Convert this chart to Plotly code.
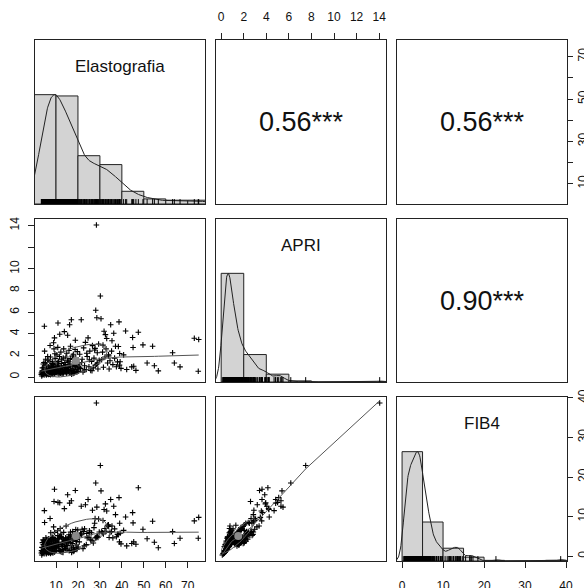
import numpy as np
import plotly.graph_objects as go

# ---------------------------------------------------------------------------
# Observations (one entry per patient): liver stiffness, APRI and FIB-4
# ---------------------------------------------------------------------------
elastografia = [
    # 3 - 10 kPa
    3.3, 3.4, 3.5, 3.6, 3.7, 3.8, 3.9,
    4.0, 4.1, 4.2, 4.3, 4.4, 4.5, 4.6, 4.7, 4.8, 4.9, 4.5, 4.2,
    5.0, 5.1, 5.2, 5.3, 5.4, 5.5, 5.6, 5.7, 5.8, 5.9, 5.3, 5.6, 5.8,
    6.0, 6.1, 6.2, 6.3, 6.4, 6.5, 6.6, 6.7, 6.8, 6.9, 6.2, 6.5, 6.8,
    7.0, 7.1, 7.2, 7.3, 7.4, 7.5, 7.6, 7.7, 7.8, 7.9, 7.2, 7.5, 7.8,
    8.0, 8.1, 8.2, 8.3, 8.4, 8.5, 8.6, 8.7, 8.8, 8.9, 8.3, 8.6, 8.8, 8.1,
    9.0, 9.1, 9.2, 9.3, 9.4, 9.5, 9.6, 9.7, 9.8, 9.9, 9.2, 9.5, 9.7, 9.4,
    # 10 - 20 kPa
    10.1, 10.2, 10.4, 10.5, 10.6, 10.8, 10.9, 10.3, 10.7,
    11.0, 11.1, 11.3, 11.4, 11.6, 11.7, 11.9, 11.5, 11.2,
    12.0, 12.2, 12.3, 12.5, 12.6, 12.8, 12.9, 12.4, 12.7,
    13.0, 13.1, 13.3, 13.4, 13.6, 13.8, 13.9, 13.5, 13.2,
    14.0, 14.2, 14.3, 14.5, 14.6, 14.8, 14.9, 14.4, 14.1,
    15.0, 15.2, 15.3, 15.5, 15.7, 15.8, 15.4, 15.9,
    16.0, 16.2, 16.4, 16.5, 16.7, 16.9, 16.6, 16.3,
    17.0, 17.2, 17.4, 17.6, 17.8, 17.5, 17.1, 17.9,
    18.0, 18.3, 18.5, 18.7, 18.9, 18.2, 18.6, 18.8,
    19.1, 19.3, 19.5, 19.7, 19.9, 19.4, 19.6, 19.0,
    # 20 - 30 kPa
    20.1, 20.4, 20.8, 21.2, 21.5, 21.9, 22.3, 22.6, 23.0, 23.4,
    23.8, 24.2, 24.6, 25.0, 25.4, 25.8, 26.2, 26.6, 27.0, 27.3,
    27.6, 27.9, 28.1, 28.4, 28.6, 28.5, 28.8, 29.1, 29.4, 29.7,
    20.6, 21.7, 22.9, 24.0, 25.2, 26.4, 27.8, 29.0,
    # 30 - 40 kPa
    30.2, 30.5, 30.8, 31.2, 31.6, 31.9, 32.3, 32.5, 32.8, 33.1,
    33.5, 33.9, 34.2, 34.6, 34.9, 35.3, 35.5, 35.9, 36.3, 36.7,
    37.1, 37.5, 38.0, 38.4, 38.7, 38.9, 39.0, 39.2, 39.6, 31.4,
    34.0,
    # above 40 kPa
    41.7, 47.5, 44.9, 45.1, 49.6, 45.4, 46.4, 42.2, 44.5, 40.8,
    54.0, 56.6, 54.8, 51.5, 63.1, 63.9, 66.5, 73.0, 75.0, 74.8,
]

apri = [
    0.25, 0.40, 0.10, 0.55, 0.30, 0.85, 0.22,
    0.35, 0.60, 1.20, 0.28, 0.45, 0.90, 0.20, 4.69, 2.40, 0.70, 1.35, 0.50,
    0.38, 1.30, 0.52, 0.33, 0.70, 0.26, 0.48, 1.10, 0.31, 0.62, 1.65, 0.19, 0.75,
    0.44, 0.58, 0.29, 0.36, 1.55, 0.66, 0.24, 0.95, 0.41, 0.80, 1.90, 0.32, 0.50,
    0.27, 0.63, 0.39, 2.92, 0.46, 1.85, 0.72, 0.34, 1.05, 0.57, 1.45, 0.21, 0.88,
    0.43, 0.68, 0.30, 1.25, 0.37, 1.40, 0.23, 0.61, 0.96, 3.17, 0.49, 1.15, 0.53, 0.28,
    0.77, 2.60, 0.42, 3.62, 0.59, 0.33, 1.70, 0.45, 0.65, 1.02, 0.29, 2.15, 0.51, 0.83,
    0.45, 0.72, 2.05, 0.38, 1.30, 2.74, 5.00, 0.60, 0.95,
    0.52, 1.45, 0.28, 0.85, 1.90, 3.95, 0.74, 0.41, 1.10,
    0.36, 2.30, 0.58, 0.92, 1.60, 0.47, 0.70, 1.25, 0.31,
    0.83, 0.55, 1.75, 0.40, 1.05, 4.20, 0.64, 2.60, 0.29,
    1.35, 0.90, 0.50, 1.85, 0.78, 0.35, 2.20, 1.15, 0.62,
    0.44, 1.50, 3.86, 0.88, 0.57, 1.40, 0.69, 2.45,
    0.39, 4.83, 1.00, 1.70, 0.75, 0.48, 2.85, 1.20,
    5.30, 0.60, 1.95, 0.82, 0.34, 1.62, 0.27, 2.10,
    0.54, 1.08, 0.43, 2.55, 0.98, 0.37, 1.32, 3.40,
    0.71, 1.58, 0.46, 2.35, 0.86, 1.22, 0.52, 1.80,
    0.55, 1.20, 2.10, 0.80, 5.30, 1.65, 0.48, 2.70, 1.05, 3.20,
    0.70, 1.90, 3.62, 0.95, 2.40, 0.62, 1.45, 2.90, 0.85, 1.75,
    2.50, 1.10, 6.17, 14.05, 5.48, 1.18, 2.25, 0.75, 3.05, 1.55,
    0.90, 1.35, 0.65, 2.20, 1.60, 0.58, 2.65, 1.30,
    7.49, 5.39, 1.60, 2.30, 0.90, 4.23, 1.85, 3.92, 2.60, 3.56,
    1.30, 2.05, 0.75, 1.50, 4.83, 2.40, 3.36, 1.15, 4.05, 1.75,
    2.85, 0.95, 1.40, 2.82, 5.10, 1.10, 2.18, 1.42, 0.80, 2.95,
    1.95,
    4.26, 4.14, 3.65, 2.73, 2.97, 1.00, 0.62, 0.70, 0.94, 2.05,
    2.85, 0.57, 1.05, 1.30, 2.24, 1.30, 0.94, 3.59, 3.47, 0.54,
]

fib4 = [
    0.8, 1.4, 0.3, 2.2, 1.0, 3.4, 0.7,
    1.2, 4.1, 2.9, 0.9, 1.9, 3.8, 0.6, 11.5, 8.5, 2.4, 4.0, 1.8,
    1.5, 3.2, 2.0, 1.2, 4.6, 0.8, 1.7, 4.2, 1.1, 3.9, 3.6, 0.6, 3.3,
    1.6, 2.5, 0.9, 1.4, 2.8, 4.4, 0.8, 3.9, 2.7, 3.2, 3.9, 1.1, 2.0,
    0.9, 2.7, 2.9, 9.5, 1.8, 4.2, 5.9, 1.1, 4.5, 2.3, 3.0, 0.7, 3.6,
    3.3, 3.0, 1.0, 4.6, 1.3, 2.6, 0.8, 4.7, 3.9, 7.4, 1.9, 4.3, 2.2, 0.9,
    3.1, 13.8, 1.5, 16.9, 2.4, 1.2, 3.3, 3.8, 2.6, 4.0, 1.0, 4.4, 2.1, 6.0,
    1.5, 2.9, 3.4, 3.0, 4.3, 5.2, 13.6, 2.1, 6.4,
    2.0, 3.1, 2.4, 3.3, 4.9, 13.5, 7.0, 1.4, 4.4,
    1.2, 5.6, 4.9, 4.7, 2.9, 1.7, 2.6, 4.8, 1.0,
    3.4, 4.5, 3.6, 1.5, 4.1, 12.0, 2.5, 6.0, 0.9,
    3.9, 3.7, 1.9, 4.4, 7.6, 2.8, 3.8, 4.6, 2.4,
    1.6, 4.1, 15.5, 3.6, 4.8, 3.8, 2.7, 5.4,
    1.4, 13.4, 4.0, 3.4, 5.3, 1.8, 6.1, 4.9,
    14.0, 2.3, 3.2, 6.2, 1.2, 4.5, 0.9, 4.1,
    2.1, 4.5, 1.6, 5.3, 4.2, 1.3, 5.1, 16.6,
    2.8, 4.2, 1.7, 4.3, 6.6, 3.7, 2.0, 6.7,
    2.3, 5.1, 5.3, 5.8, 12.6, 6.8, 1.9, 6.2, 6.9, 13.0,
    2.9, 4.6, 14.3, 4.8, 6.0, 4.1, 5.9, 11.6, 3.3, 7.2,
    8.3, 4.6, 18.5, 38.7, 12.4, 4.8, 4.9, 4.7, 9.4, 6.1,
    3.6, 5.4, 2.6, 5.7, 6.4, 3.9, 9.5, 5.1,
    22.9, 16.5, 6.3, 5.9, 5.6, 11.8, 7.0, 13.2, 6.3, 11.4,
    7.8, 7.9, 4.7, 6.0, 14.3, 6.2, 7.6, 4.6, 12.6, 6.9,
    10.5, 4.9, 5.5, 5.5, 14.8, 3.6, 8.3, 5.8, 3.1, 9.0,
    7.5,
    9.9, 17.3, 11.0, 8.4, 6.8, 3.6, 3.0, 2.6, 3.2, 6.5,
    8.8, 2.1, 3.5, 4.4, 6.2, 3.2, 4.5, 8.9, 9.8, 4.5,
]

var_names = ["Elastografia", "APRI", "FIB4"]

# correlations printed in the upper panels: (row, col) -> value / label
corr_values = {(0, 1): 0.56, (0, 2): 0.56, (1, 2): 0.90}
corr_labels = {(0, 1): "0.56***", (0, 2): "0.56***", (1, 2): "0.90***"}

# histogram break points per variable
hist_breaks = [
    [0, 10, 20, 30, 40, 50, 60, 70, 80],
    [0, 2, 4, 6, 8, 10, 12, 14, 16],
    [0, 5, 10, 15, 20, 25, 30, 35, 40],
]

# outer-axis ticks
elasto_ticks = [10, 20, 30, 40, 50, 60, 70]
elasto_labels_bottom = ["10", "20", "30", "40", "50", "60", "70"]
elasto_labels_right = ["10", "", "30", "", "50", "", "70"]
apri_ticks = [0, 2, 4, 6, 8, 10, 12, 14]
apri_labels_top = ["0", "2", "4", "6", "8", "10", "12", "14"]
apri_labels_left = ["0", "2", "4", "6", "8", "10", "", "14"]
fib4_ticks = [0, 10, 20, 30, 40]
fib4_labels = ["0", "10", "20", "30", "40"]

# ---------------------------------------------------------------------------
# helpers
# ---------------------------------------------------------------------------
def lowess(x, y, f=2 / 3, iters=3):
    order = np.argsort(x, kind="mergesort")
    xs, ys = x[order], y[order]
    n = len(xs)
    ns = max(min(int(f * n + 1e-7), n), 2)
    span = xs[-1] - xs[0]
    fit = np.zeros(n)
    rob = np.ones(n)
    for it in range(iters + 1):
        for i in range(n):
            d = np.abs(xs - xs[i])
            h = np.sort(d)[ns - 1]
            if h > 0:
                r = d / h
                w = np.where(r <= 0.999, (1 - np.clip(r, 0, 1) ** 3) ** 3, 0.0)
                w[r <= 0.001] = 1.0
            else:
                w = (d == 0).astype(float)
            w = w * rob
            sw = w.sum()
            if sw <= 0:
                fit[i] = ys[i]
                continue
            w = w / sw
            a = (w * xs).sum()
            c = (w * (xs - a) ** 2).sum()
            if np.sqrt(c) > 0.001 * span:
                b = (xs[i] - a) / c
                w = w * (b * (xs - a) + 1)
            fit[i] = (w * ys).sum()
        if it == iters:
            break
        res = ys - fit
        cmad = 6 * np.median(np.abs(res))
        if cmad < 1e-7 * np.mean(np.abs(ys)):
            break
        r = np.abs(res) / cmad
        rob = np.where(r <= 0.999, (1 - np.clip(r, 0, 1) ** 2) ** 2, 0.0)
        rob[r <= 0.001] = 1.0
    return xs, fit


def kde(x, n_grid=512, cut=3):
    n = len(x)
    q75, q25 = np.percentile(x, [75, 25])
    lo = min(np.std(x, ddof=1), (q75 - q25) / 1.34)
    bw = 0.9 * lo * n ** (-0.2)
    grid = np.linspace(x.min() - cut * bw, x.max() + cut * bw, n_grid)
    dens = np.exp(-0.5 * ((grid[:, None] - x[None, :]) / bw) ** 2).sum(axis=1)
    return grid, dens / dens.max()


def corr_ellipse(xm, ym, xs, ys, r, segments=51):
    ang = np.arange(segments + 1) * 2 * np.pi / segments
    circ = np.column_stack([np.cos(ang), np.sin(ang)])
    th = np.sign(r) / np.sqrt(2) if abs(r) > 0 else 1 / np.sqrt(2)
    shape = np.diag([np.sqrt(1 + r), np.sqrt(1 - r)]) @ np.array([[th, th], [-th, th]])
    e = circ @ shape
    return e[:, 0] * xs + xm, e[:, 1] * ys + ym


# ---------------------------------------------------------------------------
# geometry and styling
# ---------------------------------------------------------------------------
W, H = 584, 588
COLS = [(35, 205), (216, 386), (397, 567)]
ROWS = [(40, 204), (219, 382), (397, 561)]

BOX = "#222222"
SMOOTH = "#555555"
TICK_FONT = dict(family="Liberation Sans Narrow, Arial Narrow, Liberation Sans, Arial, sans-serif",
                 size=12, color="#111111")

arrs = [np.asarray(v, float) for v in (elastografia, apri, fib4)]
ranges = []
for a in arrs:
    s = a.max() - a.min()
    ranges.append([a.min() - 0.04 * s, a.max() + 0.04 * s])


def ax_key(k, kind):
    return kind + ("" if k == 1 else str(k))


def ax_ref(k, kind):
    return kind[0] + ("" if k == 1 else str(k))


def base_axis():
    return dict(showgrid=False, zeroline=False, showline=True, mirror=True,
                linecolor=BOX, linewidth=1, ticks="", showticklabels=False,
                fixedrange=True, automargin=False)


def with_ticks(d, vals, texts, angle=0, standoff=3, length=6):
    d.update(ticks="outside", ticklen=length, tickwidth=1, tickcolor=BOX,
             tickmode="array", tickvals=vals, ticktext=texts,
             showticklabels=True, tickfont=TICK_FONT, tickangle=angle,
             ticklabelstandoff=standoff)
    return d


fig = go.Figure()
layout = dict(template="none", width=W, height=H, margin=dict(l=0, r=0, t=0, b=0, pad=0),
              paper_bgcolor="white", plot_bgcolor="white", showlegend=False)
annotations = []

for i in range(3):
    for j in range(3):
        k = i * 3 + j + 1
        xr, yr = ax_ref(k, "x"), ax_ref(k, "y")
        xa = base_axis()
        xa.update(domain=[COLS[j][0] / W, COLS[j][1] / W], anchor=yr, range=ranges[j])
        ya = base_axis()
        ya.update(domain=[1 - ROWS[i][1] / H, 1 - ROWS[i][0] / H], anchor=xr,
                  range=ranges[i] if i != j else [0, 1.5])

        if i == 2 and j == 0:
            with_ticks(xa, elasto_ticks, elasto_labels_bottom, standoff=8)
        if i == 2 and j == 2:
            with_ticks(xa, fib4_ticks, fib4_labels, standoff=8)
        if i == 0 and j == 1:
            with_ticks(xa, apri_ticks, apri_labels_top, standoff=7)
            xa.update(side="top")
        if i == 1 and j == 0:
            with_ticks(ya, apri_ticks, apri_labels_left, angle=-90, standoff=4)
        if i == 0 and j == 2:
            with_ticks(ya, elasto_ticks, elasto_labels_right, angle=-90, standoff=0,
                       length=5)
            ya.update(side="right")

        layout[ax_key(k, "xaxis")] = xa
        layout[ax_key(k, "yaxis")] = ya
        common = dict(xaxis=xr, yaxis=yr, hoverinfo="skip", showlegend=False)

        if i == j:
            a = arrs[i]
            counts, edges = np.histogram(a, bins=hist_breaks[i])
            fig.add_trace(go.Bar(
                x=(edges[:-1] + edges[1:]) / 2, y=counts / counts.max(),
                width=np.diff(edges),
                marker=dict(color="#d3d3d3", line=dict(color=BOX, width=1)),
                **common))
            gx, gy = kde(a)
            fig.add_trace(go.Scatter(x=gx, y=gy, mode="lines",
                                     line=dict(color=BOX, width=1), **common))
            rx, ry = [], []
            for v in a:
                rx += [v, v, None]
                ry += [0, 0.045, None]
            fig.add_trace(go.Scatter(x=rx, y=ry, mode="lines",
                                     line=dict(color="black", width=1), **common))
            cx = (COLS[j][0] + COLS[j][1]) / 2 / W
            cy = 1 - (ROWS[i][1] - 0.84 * (ROWS[i][1] - ROWS[i][0])) / H
            annotations.append(dict(
                x=cx, y=cy, xref="paper", yref="paper", text=var_names[i],
                showarrow=False, xanchor="center", yanchor="middle",
                font=dict(family="Liberation Sans, Arial, sans-serif", size=17,
                          color="#111111")))
        elif i > j:
            x, y = arrs[j], arrs[i]
            fig.add_trace(go.Scatter(
                x=x, y=y, mode="markers",
                marker=dict(symbol="cross-thin", size=4, color="black",
                            line=dict(color="black", width=1.1)), **common))
            lx, ly = lowess(x, y)
            fig.add_trace(go.Scatter(x=lx, y=ly, mode="lines",
                                     line=dict(color=SMOOTH, width=1), **common))
            r = corr_values[(j, i)]
            ex, ey = corr_ellipse(x.mean(), y.mean(), x.std(ddof=1), y.std(ddof=1), r)
            fig.add_trace(go.Scatter(x=ex, y=ey, mode="lines",
                                     line=dict(color=SMOOTH, width=1), **common))
            fig.add_trace(go.Scatter(
                x=[x.mean()], y=[y.mean()], mode="markers",
                marker=dict(size=8, color="#8a8a8a"), **common))
        else:
            fig.add_trace(go.Scatter(x=[None], y=[None], mode="markers", **common))
            cx = (COLS[j][0] + COLS[j][1]) / 2 / W
            cy = 1 - (ROWS[i][0] + ROWS[i][1]) / 2 / H
            annotations.append(dict(
                x=cx, y=cy, xref="paper", yref="paper", text=corr_labels[(i, j)],
                showarrow=False, xanchor="center", yanchor="middle",
                font=dict(family="Liberation Sans, Arial, sans-serif", size=27,
                          color="#111111")))

# FIB4 scale on the right of the last diagonal panel
ya10 = base_axis()
ya10.update(overlaying="y9", anchor="x9", side="right", range=ranges[2], showline=False)
with_ticks(ya10, fib4_ticks, fib4_labels, angle=-90, standoff=0, length=5)
layout["yaxis10"] = ya10
fig.add_trace(go.Scatter(x=[None], y=[None], mode="markers", xaxis="x9", yaxis="y10",
                         hoverinfo="skip", showlegend=False))

layout["annotations"] = annotations
fig.update_layout(**layout)
fig.write_html("out.html")
